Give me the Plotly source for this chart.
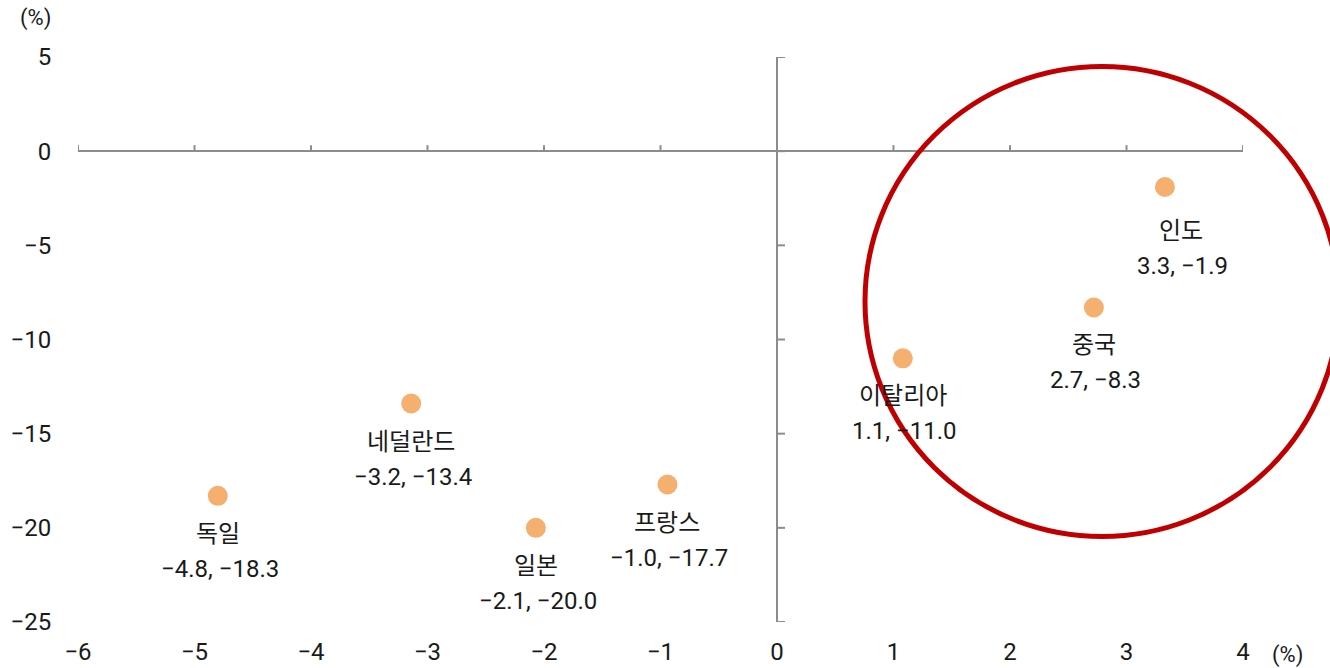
import plotly.graph_objects as go

# ---- data ----
countries = ['독일', '네덜란드', '일본', '프랑스', '이탈리아', '중국', '인도']
x_vals = [-4.8, -3.14, -2.07, -0.94, 1.08, 2.72, 3.33]
y_vals = [-18.3, -13.4, -20.0, -17.7, -11.0, -8.3, -1.9]
value_labels = ['−4.8, −18.3', '−3.2, −13.4', '−2.1, −20.0', '−1.0, −17.7',
                '1.1, −11.0', '2.7, −8.3', '3.3, −1.9']
x_ticks = [-6, -5, -4, -3, -2, -1, 0, 1, 2, 3, 4]
y_ticks = [5, 0, -5, -10, -15, -20, -25]

FONT = 'Roboto, Noto Sans CJK KR'
AX = '#8c8c8c'
FS = 24
TXT = '#1a1a1a'

fig = go.Figure()
fig.add_trace(go.Scatter(
    x=x_vals, y=y_vals, mode='markers',
    marker=dict(size=20, color='#F5AF6E'),
    hoverinfo='skip', showlegend=False))

shapes = []
# tick marks on the horizontal zero line (pointing up)
for t in x_ticks:
    shapes.append(dict(type='line', xref='x', yref='y', x0=t, x1=t,
                       ysizemode='pixel', yanchor=0, y0=0, y1=6,
                       line=dict(color=AX, width=2)))
# tick marks on the vertical zero line (pointing right)
for t in y_ticks:
    shapes.append(dict(type='line', xref='x', yref='y', y0=t, y1=t,
                       xsizemode='pixel', xanchor=0, x0=0, x1=8,
                       line=dict(color=AX, width=2)))

W, H = 1330, 668
ML, MR, MT, MB = 78, 87, 57, 46
PW, PH = W - ML - MR, H - MT - MB


def px_x(p):
    return (p - ML) / PW


def px_y(p):
    return (H - MB - p) / PH


# highlight circle (pixel centre 1102,301, radius ~236)
shapes.append(dict(type='circle', xref='paper', yref='paper',
                   x0=px_x(1102 - 237), x1=px_x(1102 + 237),
                   y0=px_y(301.5 + 235), y1=px_y(301.5 - 235),
                   line=dict(color='#C00000', width=5), layer='above'))

annotations = []
for i, name in enumerate(countries):
    special = name == '인도'
    xs = 16 if special else 0
    ys = -6 if special else 0
    annotations.append(dict(x=x_vals[i], y=y_vals[i], xref='x', yref='y',
                            text=name, showarrow=False, yshift=-38 + ys,
                            xshift=xs,
                            font=dict(family=FONT, size=FS, color=TXT)))
    annotations.append(dict(x=x_vals[i], y=y_vals[i], xref='x', yref='y',
                            text=value_labels[i], showarrow=False,
                            yshift=-73 + ys, xshift=xs + 2,
                            font=dict(family=FONT, size=FS, color=TXT)))
annotations.append(dict(x=px_x(35), y=px_y(18), xref='paper', yref='paper',
                        xanchor='center', yanchor='middle',
                        text='(%)', showarrow=False,
                        font=dict(family=FONT, size=22, color=TXT)))
annotations.append(dict(x=px_x(1288), y=px_y(655), xref='paper', yref='paper',
                        xanchor='center', yanchor='middle',
                        text='(%)', showarrow=False,
                        font=dict(family=FONT, size=22, color=TXT)))

fig.update_layout(
    width=W, height=H,
    margin=dict(l=ML, r=MR, t=MT, b=MB),
    plot_bgcolor='white', paper_bgcolor='white',
    font=dict(family=FONT, size=FS, color=TXT),
    shapes=shapes, annotations=annotations,
    xaxis=dict(range=[-6, 4], tickvals=x_ticks, showgrid=False,
               zeroline=True, zerolinecolor=AX, zerolinewidth=2,
               showline=False, ticks='outside', ticklen=8,
               tickcolor='rgba(0,0,0,0)', fixedrange=True, automargin=False),
    yaxis=dict(range=[-25, 5], tickvals=y_ticks, showgrid=False,
               zeroline=True, zerolinecolor=AX, zerolinewidth=2,
               showline=False, ticks='outside', ticklen=21,
               tickcolor='rgba(0,0,0,0)', fixedrange=True, automargin=False),
)

fig.write_html('out.html', config={'displayModeBar': False},
               post_script="document.body.style.margin='0';"
                           "document.body.style.overflow='hidden';")
